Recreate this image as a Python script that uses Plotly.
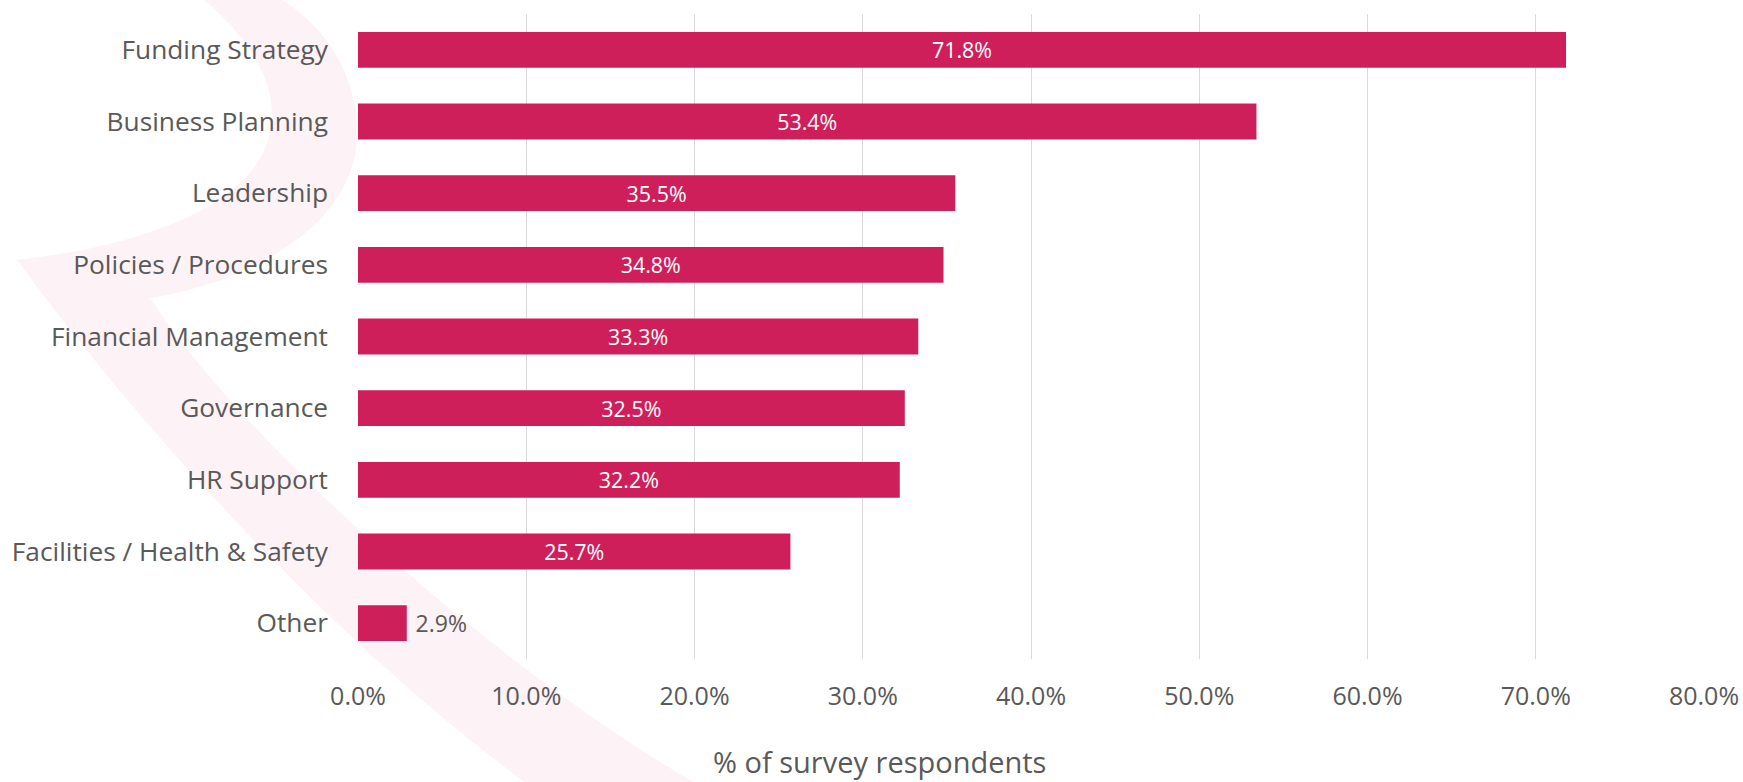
import plotly.graph_objects as go

# Survey results: share of respondents needing support in each area
categories = [
    "Funding Strategy",
    "Business Planning",
    "Leadership",
    "Policies / Procedures",
    "Financial Management",
    "Governance",
    "HR Support",
    "Facilities / Health & Safety",
    "Other",
]
values = [71.8, 53.4, 35.5, 34.8, 33.3, 32.5, 32.2, 25.7, 2.9]
x_ticks = [0, 10, 20, 30, 40, 50, 60, 70, 80]
x_title = "% of survey respondents"

BAR = "#CF1F5A"
TEXT = "#595959"
GRID = "#D9D9D9"
SWOOSH = "#FDF2F5"
FONT = "Open Sans"

W, H = 1743, 782
M_L, M_R, M_T, M_B = 358, 39, 14, 123
PW, PH = W - M_L - M_R, H - M_T - M_B


def px(x, y):
    """Convert a page pixel position to paper coordinates."""
    return (x - M_L) / PW, (H - M_B - y) / PH


def svg_path(cmds):
    """Build an SVG path string (paper coords) from pixel-space commands."""
    out = []
    for cmd, *pts in cmds:
        coords = " ".join("{:.4f},{:.4f}".format(*px(x, y)) for x, y in pts)
        out.append(f"{cmd} {coords}" if coords else cmd)
    return " ".join(out)


# Decorative background swoosh behind the chart
swoosh = svg_path([
    ("M", (200, -4)),
    # inner edge of the upper arc, sweeping down to the tip
    ("C", (240, 30), (272, 70), (272, 115)),
    ("C", (272, 200), (150, 245), (17, 260)),
    # lower band, outer edge
    ("C", (90, 360), (290, 610), (530, 786)),
    ("L", (700, 786)),
    # lower band, inner edge back up to the elbow
    ("C", (500, 670), (250, 450), (150, 298)),
    # outer edge of the upper arc
    ("C", (260, 280), (357, 220), (357, 133)),
    ("C", (357, 70), (320, 20), (275, -4)),
    ("Z",),
])

label_text = [f"{v:.1f}%" if v > 10 else f"\u2005{v:.1f}%" for v in values]
text_pos = ["inside" if v > 10 else "outside" for v in values]

fig = go.Figure(
    go.Bar(
        x=values,
        y=categories,
        orientation="h",
        marker=dict(color=BAR, line=dict(width=0)),
        text=label_text,
        textposition=text_pos,
        insidetextanchor="middle",
        insidetextfont=dict(family=FONT, size=23, color="white"),
        outsidetextfont=dict(family=FONT, size=23, color=TEXT),
        textangle=0,
        cliponaxis=False,
        hoverinfo="skip",
    )
)

title_x, title_y = px(879, 761)

fig.update_layout(
    width=W,
    height=H,
    margin=dict(l=M_L, r=M_R, t=M_T, b=M_B, pad=0),
    paper_bgcolor="white",
    plot_bgcolor="rgba(0,0,0,0)",
    bargap=0.5,
    showlegend=False,
    font=dict(family=FONT, color=TEXT, size=25),
    xaxis=dict(
        range=[0, 80],
        tickvals=x_ticks,
        ticktext=[f"{t:.1f}%" for t in x_ticks],
        showgrid=True,
        gridcolor=GRID,
        gridwidth=1,
        zeroline=False,
        showline=False,
        ticks="",
        automargin=False,
        tickfont=dict(family=FONT, size=25, color=TEXT),
        ticklabelstandoff=20,
    ),
    yaxis=dict(
        categoryorder="array",
        categoryarray=categories,
        autorange="reversed",
        showgrid=False,
        zeroline=False,
        showline=False,
        ticks="",
        automargin=False,
        tickfont=dict(family=FONT, size=26.3, color=TEXT),
        ticklabelstandoff=29,
    ),
    annotations=[
        dict(
            text=x_title,
            xref="paper",
            yref="paper",
            x=title_x,
            y=title_y,
            xanchor="center",
            yanchor="middle",
            showarrow=False,
            font=dict(family=FONT, size=29, color=TEXT),
        )
    ],
    shapes=[
        dict(
            type="path",
            path=swoosh,
            xref="paper",
            yref="paper",
            fillcolor=SWOOSH,
            line=dict(width=0),
            layer="below",
        )
    ],
)

fig.write_html("out.html")
